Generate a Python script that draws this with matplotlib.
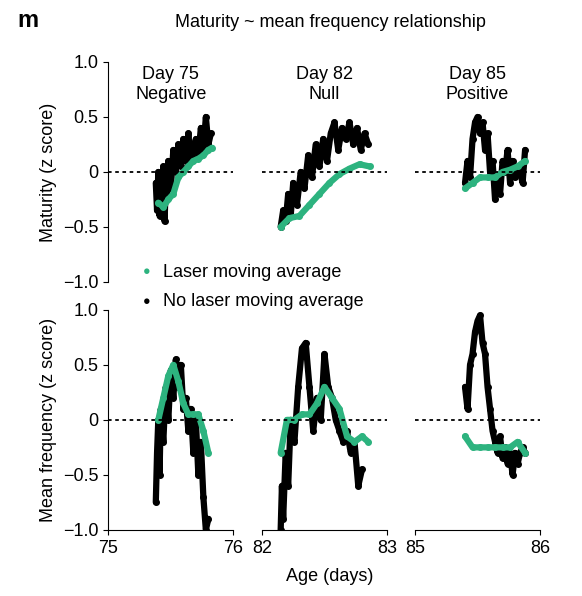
import matplotlib.pyplot as plt
import numpy as np
plt.rcParams['font.family'] = ['Liberation Sans', 'DejaVu Sans']

days = [75, 82, 85]
labels = ["Day 75\nNegative", "Day 82\nNull", "Day 85\nPositive"]

mat_black_x = [
 [0.38,0.39,0.40,0.41,0.42,0.43,0.44,0.45,0.46,0.47,0.48,0.50,0.52,0.54,0.56,0.58,0.60,0.62,0.64,0.66,0.68,0.70,0.72,0.74,0.76,0.78,0.80,0.82],
 [0.15,0.17,0.19,0.21,0.23,0.25,0.28,0.31,0.34,0.37,0.40,0.43,0.46,0.49,0.52,0.55,0.58,0.61,0.64,0.67,0.70,0.73,0.76,0.79,0.82,0.85],
 [0.40,0.42,0.44,0.46,0.48,0.50,0.52,0.54,0.56,0.58,0.60,0.62,0.64,0.66,0.68,0.70,0.72,0.74,0.76,0.78,0.80,0.82,0.84,0.86,0.88],
]
mat_black_y = [
 [-0.1,-0.35,0.0,-0.4,-0.1,-0.3,0.05,-0.45,-0.1,-0.2,0.1,-0.15,0.2,0.0,0.25,0.05,0.3,0.1,0.35,0.1,0.2,0.3,0.15,0.4,0.2,0.5,0.25,0.35],
 [-0.5,-0.35,-0.45,-0.2,-0.4,-0.1,-0.3,0.0,-0.15,0.15,-0.05,0.25,0.05,0.3,0.1,0.35,0.45,0.2,0.4,0.3,0.45,0.25,0.4,0.2,0.35,0.25],
 [-0.1,0.1,-0.05,0.3,0.45,0.5,0.35,0.45,0.2,0.35,0.0,0.1,-0.25,-0.05,-0.2,0.1,0.0,0.2,-0.1,0.1,-0.05,0.05,0.0,-0.1,0.2],
]
mat_green_x = [
 [0.40,0.44,0.48,0.52,0.56,0.60,0.64,0.68,0.72,0.76,0.80,0.83],
 [0.15,0.22,0.30,0.38,0.46,0.54,0.62,0.70,0.78,0.86],
 [0.40,0.46,0.52,0.58,0.64,0.70,0.76,0.82,0.88],
]
mat_green_y = [
 [-0.28,-0.32,-0.25,-0.2,-0.05,0.0,0.05,0.1,0.12,0.15,0.2,0.22],
 [-0.5,-0.42,-0.4,-0.3,-0.2,-0.1,-0.02,0.03,0.07,0.05],
 [-0.15,-0.1,-0.05,-0.05,-0.05,0.0,0.02,0.05,0.1],
]
freq_black_x = [
 [0.38,0.39,0.40,0.41,0.42,0.44,0.46,0.48,0.50,0.52,0.54,0.56,0.58,0.60,0.62,0.64,0.66,0.68,0.70,0.72,0.74,0.76,0.78,0.80],
 [0.15,0.16,0.17,0.19,0.21,0.23,0.26,0.29,0.32,0.35,0.38,0.41,0.44,0.47,0.50,0.53,0.56,0.59,0.62,0.65,0.68,0.71,0.74,0.77,0.80],
 [0.40,0.42,0.44,0.46,0.48,0.50,0.52,0.54,0.56,0.58,0.60,0.62,0.64,0.66,0.68,0.70,0.72,0.74,0.76,0.78,0.80,0.82,0.84,0.86,0.88],
]
freq_black_y = [
 [-0.75,-0.3,0.0,-0.5,0.1,-0.2,0.3,0.0,0.45,0.2,0.55,0.3,0.5,0.1,0.2,-0.1,0.1,-0.3,0.0,-0.5,-0.2,-0.7,-1.0,-0.9],
 [-1.0,-0.6,-0.9,-0.3,-0.6,0.0,-0.2,0.3,0.65,0.7,0.3,-0.1,0.2,0.0,0.6,0.3,0.2,0.0,-0.1,-0.2,-0.1,-0.3,-0.2,-0.6,-0.45],
 [0.3,0.1,0.5,0.6,0.8,0.9,0.95,0.7,0.6,0.3,0.1,-0.1,-0.2,-0.3,-0.15,-0.35,-0.25,-0.4,-0.3,-0.5,-0.3,-0.4,-0.3,-0.25,-0.3],
]
freq_green_x = [
 [0.40,0.44,0.48,0.52,0.56,0.60,0.64,0.68,0.72,0.76,0.80],
 [0.15,0.20,0.26,0.32,0.38,0.44,0.50,0.56,0.62,0.68,0.74,0.80,0.85],
 [0.40,0.46,0.52,0.58,0.64,0.70,0.76,0.82,0.88],
]
freq_green_y = [
 [0.0,0.2,0.4,0.5,0.35,0.15,0.05,0.05,0.05,-0.1,-0.3],
 [-0.3,0.0,0.0,0.05,0.05,0.15,0.3,0.2,0.1,-0.15,-0.2,-0.15,-0.2],
 [-0.15,-0.25,-0.25,-0.25,-0.25,-0.25,-0.25,-0.2,-0.3],
]

black = "#000000"
green = "#2db37f"
fig = plt.figure(figsize=(5.82, 5.96), dpi=100)
lefts = [0.186, 0.450, 0.713]
w = 0.215
rows = [(0.527, mat_black_x, mat_black_y, mat_green_x, mat_green_y),
        (0.111, freq_black_x, freq_black_y, freq_green_x, freq_green_y)]
for r, (b, bx, by, gx, gy) in enumerate(rows):
    for c in range(3):
        ax = fig.add_axes([lefts[c], b, w, 0.369])
        d = days[c]
        ax.plot(d + np.array(bx[c]), by[c], color=black, lw=4.5, marker="o", ms=4, solid_capstyle="round")
        ax.plot(d + np.array(gx[c]), gy[c], color=green, lw=4.5, marker="o", ms=4, solid_capstyle="round")
        ax.axhline(0, color="black", ls=(0, (2, 2)), lw=1.3)
        ax.set_xlim(d, d + 1)
        ax.set_ylim(-1, 1)
        for s in ["top", "right"]:
            ax.spines[s].set_visible(False)
        if c > 0:
            ax.spines["left"].set_visible(False)
            ax.set_yticks([])
        else:
            ax.set_yticks([-1, -0.5, 0, 0.5, 1])
            ax.set_yticklabels(["−1.0", "−0.5", "0", "0.5", "1.0"], fontsize=13)
        if r == 0:
            ax.spines["bottom"].set_visible(False)
            ax.set_xticks([])
            ax.text(0.5, 0.98, labels[c], transform=ax.transAxes, ha="center", va="top", fontsize=13)
        else:
            ax.set_xticks([d, d + 1])
            ax.set_xticklabels([str(d), str(d + 1)], fontsize=13)
        if c == 0:
            ax.set_ylabel("Maturity (z score)" if r == 0 else "Mean frequency (z score)", fontsize=13)
fig.text(0.567, 0.025, "Age (days)", ha="center", fontsize=13)
fig.text(0.567, 0.955, "Maturity ~ mean frequency relationship", ha="center", fontsize=13)
fig.text(0.03, 0.955, "m", fontsize=17, fontweight="bold")
fig.text(0.252, 0.543, "●", color=green, fontsize=9, va="center", ha="center")
fig.text(0.28, 0.543, "Laser moving average", fontsize=13, va="center")
fig.text(0.252, 0.494, "●", color=black, fontsize=9, va="center", ha="center")
fig.text(0.28, 0.494, "No laser moving average", fontsize=13, va="center")
fig.savefig("out.png", dpi=100)
